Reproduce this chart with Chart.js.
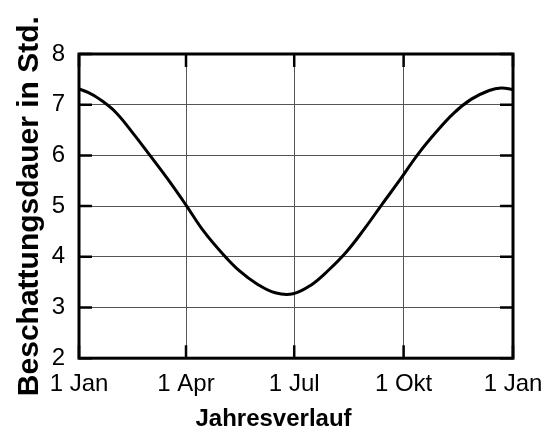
<!DOCTYPE html>
<html>
<head>
<meta charset="utf-8">
<script src="https://cdn.jsdelivr.net/npm/chart.js@4.4.1/dist/chart.umd.min.js"></script>
<style>
  html, body { margin: 0; padding: 0; background: #fff; }
  #wrap { width: 547px; height: 439px; }
</style>
</head>
<body>
<div id="wrap"><canvas id="chart"></canvas></div>
<script>
// day of year -> Beschattungsdauer (h)
const days = [0, 8, 16, 30, 45, 60, 75, 90, 105, 120, 135, 150, 165, 180, 195, 210, 225, 240, 255, 270, 285, 300, 315, 330, 345, 355, 365]
const hours = [7.31, 7.24, 7.13, 6.87, 6.45, 5.99, 5.52, 5.02, 4.50, 4.08, 3.72, 3.46, 3.29, 3.27, 3.44, 3.74, 4.10, 4.55, 5.04, 5.52, 6.02, 6.45, 6.83, 7.11, 7.28, 7.33, 7.30]

const tickDays = [0, 90, 181, 273, 365]
const tickNames = ['1 Jan', '1 Apr', '1 Jul', '1 Okt', '1 Jan']
const yTicks = [2, 3, 4, 5, 6, 7, 8]

const FONT = "'Liberation Sans', Arial, sans-serif"

// frame + inward tick marks
const frame = {
  id: 'frame',
  afterDatasetsDraw(chart) {
    const { ctx, chartArea: a, scales } = chart
    ctx.save()
    ctx.strokeStyle = '#000'
    ctx.lineWidth = 2.5
    ctx.beginPath()
    yTicks.forEach(v => {
      const y = scales.y.getPixelForValue(v)
      ctx.moveTo(a.left, y); ctx.lineTo(a.left + 13, y)
      ctx.moveTo(a.right, y); ctx.lineTo(a.right - 13, y)
    })
    tickDays.forEach(d => {
      const x = scales.x.getPixelForValue(d)
      ctx.moveTo(x, a.top); ctx.lineTo(x, a.top + 13)
      ctx.moveTo(x, a.bottom); ctx.lineTo(x, a.bottom - 13)
    })
    ctx.stroke()
    ctx.lineWidth = 3
    ctx.strokeRect(a.left, a.top, a.right - a.left, a.bottom - a.top)
    ctx.restore()
  }
}

new Chart(document.getElementById('chart'), {
  type: 'line',
  data: {
    datasets: [{
      data: days.map((d, i) => ({ x: d, y: hours[i] })),
      borderColor: '#000',
      borderWidth: 3,
      pointRadius: 0,
      tension: 0.4,
      fill: false
    }]
  },
  options: {
    responsive: true,
    maintainAspectRatio: false,
    animation: false,
    layout: { padding: { top: 54, right: 0, left: 0, bottom: 0 } },
    plugins: {
      legend: { display: false },
      tooltip: { enabled: false },
      title: {
        display: true,
        position: 'bottom',
        text: 'Jahresverlauf',
        color: '#000',
        font: { family: FONT, size: 24, weight: 'bold' },
        padding: { top: 0, bottom: 5 }
      }
    },
    scales: {
      x: {
        type: 'linear',
        min: 0,
        max: 365,
        afterBuildTicks: s => { s.ticks = tickDays.map(v => ({ value: v })) },
        afterFit: s => { s.height = 47; s.paddingRight = 34 },
        ticks: {
          autoSkip: false,
          maxRotation: 0,
          padding: 12,
          color: '#000',
          font: { family: FONT, size: 24 },
          callback: (v, i) => tickNames[i]
        },
        grid: { color: '#555', lineWidth: 1, drawTicks: false },
        border: { display: false }
      },
      y: {
        min: 2,
        max: 8,
        afterBuildTicks: s => { s.ticks = yTicks.map(v => ({ value: v })) },
        afterFit: s => { s.width = 79 },
        ticks: {
          padding: 14,
          color: '#000',
          font: { family: FONT, size: 24 }
        },
        grid: { color: '#555', lineWidth: 1, drawTicks: false },
        border: { display: false },
        title: {
          display: true,
          text: 'Beschattungsdauer in Std.',
          color: '#000',
          font: { family: FONT, size: 30, weight: 'bold' },
          padding: { top: 12, bottom: 0 }
        }
      }
    }
  },
  plugins: [frame]
})
</script>
</body>
</html>
